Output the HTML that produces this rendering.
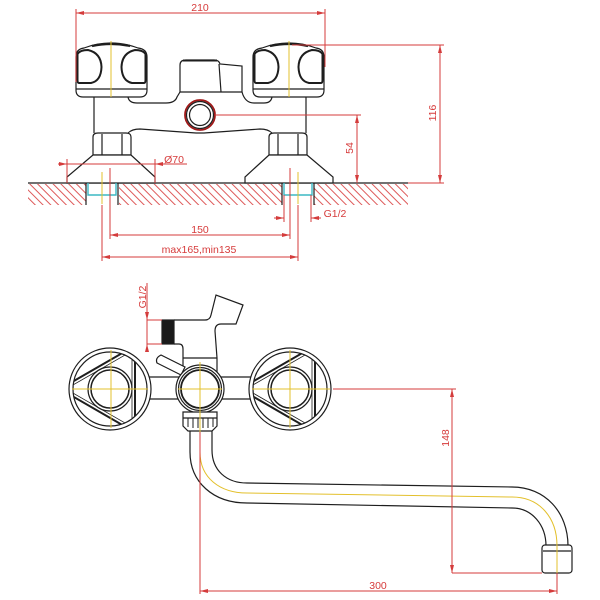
<!DOCTYPE html>
<html><head><meta charset="utf-8"><style>
html,body{margin:0;padding:0;background:#fff;}
svg{display:block;}
text{font-family:"Liberation Sans",sans-serif;fill:#d63b3b;font-size:10.5px;}
</style></head><body>
<svg width="600" height="600" viewBox="0 0 600 600" xmlns="http://www.w3.org/2000/svg">
<defs>
<pattern id="h" width="5.5" height="10" patternUnits="userSpaceOnUse" patternTransform="rotate(-45)"><line x1="1" y1="0" x2="1" y2="10" stroke="#de5a5a" stroke-width="1"/></pattern>
<marker id="ar" viewBox="0 0 8 4" refX="8" refY="2" markerWidth="8" markerHeight="4" markerUnits="userSpaceOnUse" orient="auto-start-reverse"><path d="M0,0 L8,2 L0,4 Z" fill="#d43c3c"/></marker>
<clipPath id="cl"><circle cx="110" cy="389" r="37"/></clipPath>
<clipPath id="cr"><circle cx="290" cy="389" r="37"/></clipPath>
</defs>
<rect width="600" height="600" fill="#fff"/>

<!-- ============ TOP VIEW ============ -->
<!-- hatching -->
<rect x="28" y="184" width="58" height="21" fill="url(#h)"/>
<rect x="119" y="184" width="163" height="21" fill="url(#h)"/>
<rect x="314" y="184" width="94" height="21" fill="url(#h)"/>

<g fill="none" stroke="#1e1e1e" stroke-width="1.2">
  <!-- floor -->
  <line x1="28" y1="183" x2="408" y2="183"/>
  <!-- left half -->
  <g id="halfL">
    <path d="M83,97 Q76,97 76,90 L76,57 Q76,49 84,48 Q97,43 111,43 Q125,43 138,48 Q147,49 147,57 L147,90 Q147,97 140,97 Z" fill="#fff"/>
    <path d="M92,46 Q111,42 130,46" stroke-width="2.2"/>
    <line x1="76" y1="89" x2="147" y2="89"/>
    <path d="M77.5,54 Q80,50 88,50 Q101,53 101.5,67 Q101,81 91,83 L79,83 Q77.5,83 77.5,80 Z" stroke-width="2"/>
    <path d="M145.5,54 Q143,50 135,50 Q122,53 121.5,67 Q122,81 132,83 L144,83 Q145.5,83 145.5,80 Z" stroke-width="2"/>
    <line x1="94" y1="97" x2="94" y2="133"/>
    <path d="M93,137 Q93,133 98,133 L126,133 Q131,133 131,137 L131,155 L93,155 Z" fill="#fff"/>
    <line x1="102" y1="134" x2="102" y2="155"/>
    <line x1="122" y1="134" x2="122" y2="155"/>
    <path d="M93,155 L131,155 L155,177 L155,183 L67,183 L67,177 Z" fill="#fff"/>
    <line x1="86" y1="183" x2="86" y2="205"/>
    <line x1="118" y1="183" x2="118" y2="205"/>
    <path d="M88,183 L88,195 L116,195 L116,183" stroke="#3bb8c4" stroke-width="1.4"/>
  </g>
  <!-- right half (mirror) -->
  <g transform="translate(400,0) scale(-1,1)">
    <path d="M83,97 Q76,97 76,90 L76,57 Q76,49 84,48 Q97,43 111,43 Q125,43 138,48 Q147,49 147,57 L147,90 Q147,97 140,97 Z" fill="#fff"/>
    <path d="M92,46 Q111,42 130,46" stroke-width="2.2"/>
    <line x1="76" y1="89" x2="147" y2="89"/>
    <path d="M77.5,54 Q80,50 88,50 Q101,53 101.5,67 Q101,81 91,83 L79,83 Q77.5,83 77.5,80 Z" stroke-width="2"/>
    <path d="M145.5,54 Q143,50 135,50 Q122,53 121.5,67 Q122,81 132,83 L144,83 Q145.5,83 145.5,80 Z" stroke-width="2"/>
    <line x1="94" y1="97" x2="94" y2="133"/>
    <path d="M93,137 Q93,133 98,133 L126,133 Q131,133 131,137 L131,155 L93,155 Z" fill="#fff"/>
    <line x1="102" y1="134" x2="102" y2="155"/>
    <line x1="122" y1="134" x2="122" y2="155"/>
    <path d="M93,155 L131,155 L155,177 L155,183 L67,183 L67,177 Z" fill="#fff"/>
    <line x1="86" y1="183" x2="86" y2="205"/>
    <line x1="118" y1="183" x2="118" y2="205"/>
    <path d="M88,183 L88,195 L116,195 L116,183" stroke="#3bb8c4" stroke-width="1.4"/>
  </g>
  <!-- body -->
  <path d="M128,97 Q129,103 137,103 L166,103 Q175,103 177,97 L180,92"/>
  <path d="M242,92 Q245,103 254,103 L264,103 Q271,103 272,97"/>
  <path d="M128,133 Q132,129 140,129 L196,133 L204,133 L260,129 Q268,129 272,133"/>
  <!-- lever -->
  <path d="M180,92 L180,65 Q180,60 186,60 L214,60 Q219,60 220,64 L242,66 L242,92 Z" fill="#fff"/>
  <path d="M183,60.5 L217,60.5" stroke-width="2"/>
  <line x1="219" y1="64" x2="221" y2="92"/>
  <!-- circle -->
  <circle cx="200" cy="115" r="15" stroke="#a01818" stroke-width="1.8"/>
  <circle cx="200" cy="115" r="13.5"/>
  <circle cx="200" cy="115" r="10.5"/>
</g>

<!-- yellow centerlines top -->
<g stroke="#e3c02c" stroke-width="1">
  <line x1="111" y1="41" x2="111" y2="97"/>
  <line x1="289" y1="41" x2="289" y2="97"/>
  <line x1="102" y1="172" x2="102" y2="204"/>
  <line x1="298" y1="172" x2="298" y2="204"/>
</g>

<!-- red dims top -->
<g stroke="#d63b3b" stroke-width="1" fill="none">
  <line x1="76" y1="9" x2="76" y2="82"/>
  <line x1="325" y1="9" x2="325" y2="67"/>
  <line x1="76" y1="13" x2="325" y2="13" marker-start="url(#ar)" marker-end="url(#ar)"/>
  <!-- 116 -->
  <line x1="292" y1="45" x2="444" y2="45"/>
  <line x1="408" y1="183" x2="444" y2="183"/>
  <line x1="440" y1="45" x2="440" y2="183" marker-start="url(#ar)" marker-end="url(#ar)"/>
  <!-- 54 -->
  <line x1="215" y1="115" x2="361" y2="115"/>
  <line x1="357" y1="115" x2="357" y2="183" marker-start="url(#ar)" marker-end="url(#ar)"/>
  <!-- Ø70 -->
  <line x1="67" y1="159" x2="67" y2="183"/>
  <line x1="155" y1="159" x2="155" y2="183"/>
  <line x1="58" y1="164" x2="67" y2="164" marker-end="url(#ar)"/>
  <line x1="67" y1="164" x2="155" y2="164"/>
  <line x1="187" y1="164" x2="155" y2="164" marker-end="url(#ar)"/>
  <!-- 150 -->
  <line x1="110" y1="168" x2="110" y2="239"/>
  <line x1="290" y1="168" x2="290" y2="239"/>
  <line x1="110" y1="235" x2="290" y2="235" marker-start="url(#ar)" marker-end="url(#ar)"/>
  <!-- max -->
  <line x1="102" y1="205" x2="102" y2="261"/>
  <line x1="298" y1="205" x2="298" y2="261"/>
  <line x1="102" y1="257" x2="298" y2="257" marker-start="url(#ar)" marker-end="url(#ar)"/>
  <!-- G1/2 top -->
  <line x1="284" y1="195" x2="284" y2="222"/>
  <line x1="311" y1="195" x2="311" y2="222"/>
  <line x1="274" y1="218" x2="284" y2="218" marker-end="url(#ar)"/>
  <line x1="321" y1="218" x2="311" y2="218" marker-end="url(#ar)"/>
</g>
<text x="200" y="11" text-anchor="middle">210</text>
<text x="174" y="163" text-anchor="middle">Ø70</text>
<text x="200" y="233" text-anchor="middle">150</text>
<text x="199" y="253" text-anchor="middle" font-size="11">max165,min135</text>
<text x="335" y="217" text-anchor="middle">G1/2</text>
<text transform="translate(436,113) rotate(-90)" text-anchor="middle">116</text>
<text transform="translate(353,148) rotate(-90)" text-anchor="middle">54</text>

<!-- ============ BOTTOM VIEW ============ -->
<g fill="none" stroke="#1e1e1e" stroke-width="1.2">
  <!-- spout -->
  <path d="M190,430 L190,452 C190,482 213,503 247,503 L512,508 C532,508 546,525 546,546"/>
  <path d="M212,430 L212,450 C212,470 226,483 247,483 L512,487 C545,487 568,512 568,546"/>
  <rect x="542" y="545" width="30" height="28" rx="3" fill="#fff"/>
  <line x1="543" y1="551" x2="571" y2="551"/>
  <!-- top valve -->
  <path d="M174,320 L205,320 Q210,320 211,315 L216,295 L243,305 L236,324 L221,324 Q215,324 215,331 L217,358"/>
  <path d="M174,344 L179,344 Q183,344 183,349 L183,372"/>
  <line x1="217" y1="358" x2="217" y2="372"/>
  <line x1="183" y1="358" x2="217" y2="358"/>
  <rect x="162" y="320" width="12" height="24" fill="#1a1a1a"/>
  <!-- arms -->
  <line x1="149" y1="377" x2="179" y2="377"/>
  <line x1="149" y1="399" x2="179" y2="399"/>
  <line x1="221" y1="377" x2="251" y2="377"/>
  <line x1="221" y1="399" x2="251" y2="399"/>
  <!-- small lever -->
  <path d="M161,355 L185,367 L181,375 L157,363 Q155,358 161,355 Z" fill="#fff"/>
  <!-- center -->
  <circle cx="200" cy="389" r="24" fill="#fff"/>
  <circle cx="200" cy="389" r="21.5"/>
  <circle cx="200" cy="389" r="19" stroke-width="1.8"/>
  <!-- nut -->
  <path d="M183,412 L217,412 L217,426 L212,431 L188,431 L183,426 Z" fill="#fff"/>
  <line x1="183" y1="418" x2="217" y2="418"/>
  <g stroke-width="1">
    <line x1="188" y1="418" x2="188" y2="427"/><line x1="193" y1="418" x2="193" y2="428"/>
    <line x1="198" y1="418" x2="198" y2="428"/><line x1="203" y1="418" x2="203" y2="428"/>
    <line x1="208" y1="418" x2="208" y2="428"/><line x1="213" y1="418" x2="213" y2="427"/>
  </g>
  <!-- left knob -->
  <circle cx="110" cy="389" r="41" fill="#fff"/>
  <circle cx="110" cy="389" r="37"/>
  <g clip-path="url(#cl)">
    <polygon points="60,389 135,345.7 135,432.3" stroke-width="2"/>
    <polygon points="66,389 132,351 132,427" stroke-width="0.8"/>
  </g>
  <circle cx="110" cy="389" r="22"/>
  <circle cx="110" cy="389" r="19" stroke-width="1.5"/>
  <!-- right knob -->
  <circle cx="290" cy="389" r="41" fill="#fff"/>
  <circle cx="290" cy="389" r="37"/>
  <g clip-path="url(#cr)">
    <polygon points="240,389 315,345.7 315,432.3" stroke-width="2"/>
    <polygon points="246,389 312,351 312,427" stroke-width="0.8"/>
  </g>
  <circle cx="290" cy="389" r="22"/>
  <circle cx="290" cy="389" r="19" stroke-width="1.5"/>
</g>

<!-- yellow bottom -->
<g stroke="#e3c02c" stroke-width="1" fill="none">
  <line x1="72" y1="389" x2="148" y2="389"/>
  <line x1="111" y1="350" x2="111" y2="428"/>
  <line x1="252" y1="389" x2="330" y2="389"/>
  <line x1="290" y1="350" x2="290" y2="428"/>
  <line x1="178" y1="389" x2="222" y2="389"/>
  <line x1="200" y1="362" x2="200" y2="432"/>
  <path d="M200,432 L200,452 C200,478 220,493 247,493 L512,497 C540,497 557,518 557,546 L557,573"/>
</g>

<!-- red dims bottom -->
<g stroke="#d63b3b" stroke-width="1" fill="none">
  <line x1="147" y1="283" x2="147" y2="352"/>
  <line x1="147" y1="320" x2="162" y2="320"/>
  <line x1="147" y1="344" x2="162" y2="344"/>
  <line x1="147" y1="308" x2="147" y2="320" marker-end="url(#ar)"/>
  <line x1="147" y1="352" x2="147" y2="344" marker-end="url(#ar)"/>
  <line x1="333" y1="389" x2="456" y2="389"/>
  <line x1="452" y1="389" x2="452" y2="573" marker-start="url(#ar)" marker-end="url(#ar)"/>
  <line x1="452" y1="573" x2="542" y2="573"/>
  <line x1="200" y1="432" x2="200" y2="594"/>
  <line x1="557" y1="573" x2="557" y2="594"/>
  <line x1="200" y1="591" x2="557" y2="591" marker-start="url(#ar)" marker-end="url(#ar)"/>
</g>
<text transform="translate(146,297) rotate(-90)" text-anchor="middle">G1/2</text>
<text transform="translate(449,438) rotate(-90)" text-anchor="middle">148</text>
<text x="378" y="589" text-anchor="middle">300</text>
</svg>
</body></html>
